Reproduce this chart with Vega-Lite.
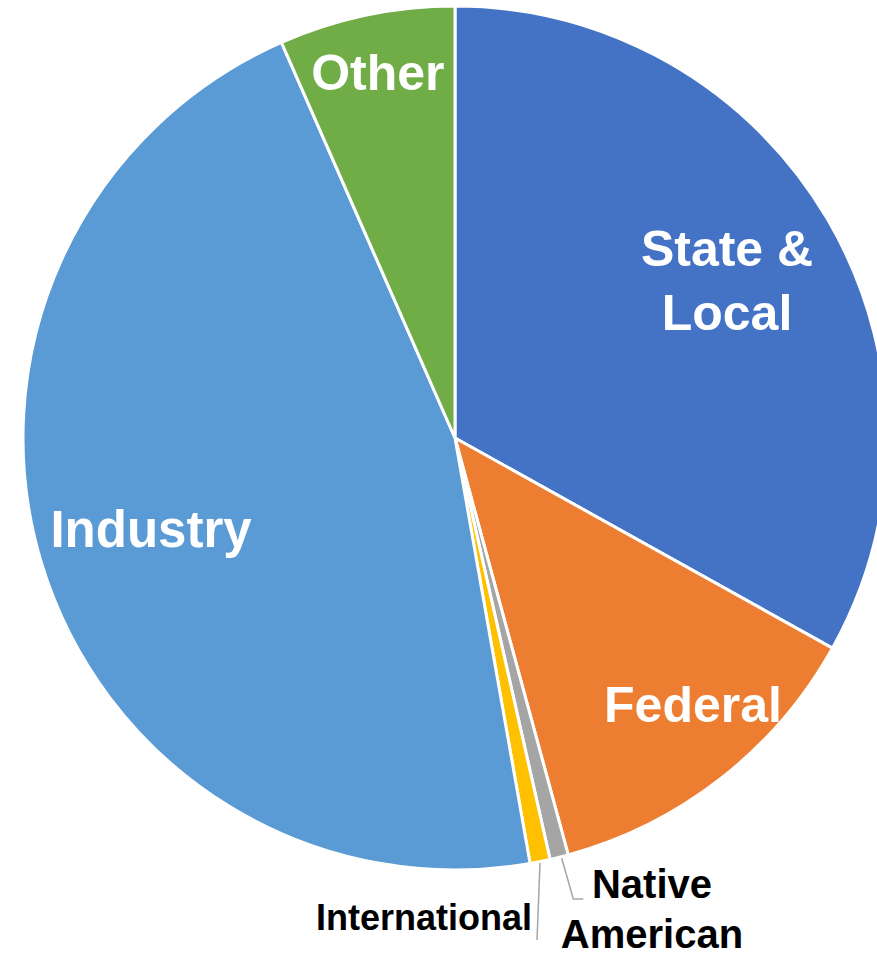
{
  "$schema": "https://vega.github.io/schema/vega-lite/v6.json",
  "width": 844,
  "height": 876,
  "autosize": {"type": "none"},
  "padding": {"left": 33, "top": 0, "right": 0, "bottom": 77},
  "background": "white",
  "view": {"stroke": null},
  "config": {"text": {"font": "Liberation Sans", "fontWeight": "bold"}},
  "data": {
    "values": [
      {"label": "State &\nLocal", "rank": 1, "share": 33.08},
      {"label": "Federal", "rank": 2, "share": 12.69},
      {"label": "Native\nAmerican", "rank": 3, "share": 0.69},
      {"label": "International", "rank": 4, "share": 0.75},
      {"label": "Industry", "rank": 5, "share": 46.19},
      {"label": "Other", "rank": 6, "share": 6.58}
    ]
  },
  "datasets": {
    "leaders": [
      {"label": "International", "seq": 1, "x": 19.72, "y": -98.61},
      {"label": "International", "seq": 2, "x": 19.03, "y": -116.47},
      {"label": "Native American", "seq": 1, "x": 24.76, "y": -97.52},
      {"label": "Native American", "seq": 2, "x": 27.45, "y": -106.96},
      {"label": "Native American", "seq": 3, "x": 29.77, "y": -106.96}
    ]
  },
  "layer": [
    {
      "mark": {"type": "arc", "radius": 432, "stroke": "white", "strokeWidth": 3},
      "encoding": {
        "theta": {"field": "share", "type": "quantitative", "stack": true},
        "order": {"field": "rank", "type": "quantitative"},
        "color": {
          "field": "label",
          "type": "nominal",
          "scale": {
            "domain": ["State &\nLocal", "Federal", "Native\nAmerican", "International", "Industry", "Other"],
            "range": ["#4472C4", "#ED7D31", "#A5A5A5", "#FFC000", "#5B9BD5", "#70AD47"]
          },
          "legend": null
        }
      }
    },
    {
      "mark": {"type": "text", "radius": 330.1, "thetaOffset": -0.0709, "fontSize": 50, "lineHeight": 64, "fill": "white", "align": "center", "baseline": "middle", "lineBreak": "\n"},
      "encoding": {
        "theta": {"field": "share", "type": "quantitative", "stack": true},
        "order": {"field": "rank", "type": "quantitative"},
        "text": {"condition": {"test": "datum.rank === 1", "field": "label", "type": "nominal"}, "value": ""}
      }
    },
    {
      "mark": {"type": "text", "radius": 359.2, "thetaOffset": -0.0602, "fontSize": 50, "fill": "white", "align": "center", "baseline": "middle"},
      "encoding": {
        "theta": {"field": "share", "type": "quantitative", "stack": true},
        "order": {"field": "rank", "type": "quantitative"},
        "text": {"condition": {"test": "datum.rank === 2", "field": "label", "type": "nominal"}, "value": ""}
      }
    },
    {
      "mark": {"type": "text", "radius": 318.2, "thetaOffset": -0.0061, "fontSize": 51, "fill": "white", "align": "center", "baseline": "middle"},
      "encoding": {
        "theta": {"field": "share", "type": "quantitative", "stack": true},
        "order": {"field": "rank", "type": "quantitative"},
        "text": {"condition": {"test": "datum.rank === 5", "field": "label", "type": "nominal"}, "value": ""}
      }
    },
    {
      "mark": {"type": "text", "radius": 371.1, "thetaOffset": -0.0026, "fontSize": 50, "fill": "white", "align": "center", "baseline": "middle"},
      "encoding": {
        "theta": {"field": "share", "type": "quantitative", "stack": true},
        "order": {"field": "rank", "type": "quantitative"},
        "text": {"condition": {"test": "datum.rank === 6", "field": "label", "type": "nominal"}, "value": ""}
      }
    },
    {
      "mark": {"type": "text", "radius": 489.4, "thetaOffset": -0.1707, "fontSize": 40, "lineHeight": 50, "fill": "black", "align": "center", "baseline": "middle", "lineBreak": "\n"},
      "encoding": {
        "theta": {"field": "share", "type": "quantitative", "stack": true},
        "order": {"field": "rank", "type": "quantitative"},
        "text": {"condition": {"test": "datum.rank === 3", "field": "label", "type": "nominal"}, "value": ""}
      }
    },
    {
      "mark": {"type": "text", "radius": 482.0, "thetaOffset": 0.2627, "fontSize": 36, "fill": "black", "align": "center", "baseline": "middle"},
      "encoding": {
        "theta": {"field": "share", "type": "quantitative", "stack": true},
        "order": {"field": "rank", "type": "quantitative"},
        "text": {"condition": {"test": "datum.rank === 4", "field": "label", "type": "nominal"}, "value": ""}
      }
    },
    {
      "data": {"name": "leaders"},
      "mark": {"type": "line", "stroke": "#A5A5A5", "strokeWidth": 1.5},
      "encoding": {
        "x": {"field": "x", "type": "quantitative", "scale": {"domain": [-97.91, 97.91], "nice": false, "zero": false}, "axis": null},
        "y": {"field": "y", "type": "quantitative", "scale": {"domain": [-101.62, 101.62], "nice": false, "zero": false}, "axis": null},
        "detail": {"field": "label", "type": "nominal"},
        "order": {"field": "seq", "type": "quantitative"}
      }
    }
  ]
}
